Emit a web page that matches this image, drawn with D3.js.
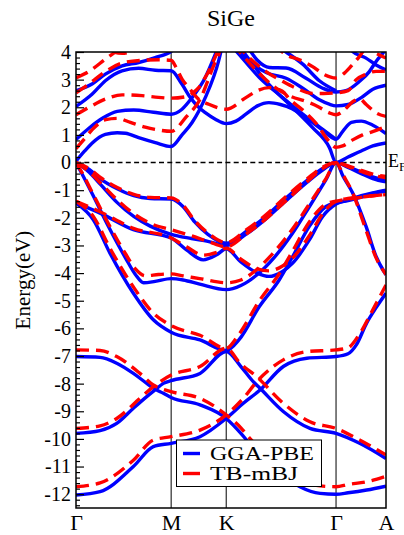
<!DOCTYPE html>
<html>
<head>
<meta charset="utf-8">
<script src="https://cdn.jsdelivr.net/npm/d3@7"></script>
<style>
  body { margin: 0; background: #fff; }
  text { font-family: "Liberation Serif", "Times New Roman", serif; }
</style>
</head>
<body>
<svg id="chart" width="404" height="535"></svg>
<script>
// caminho no espaço k e rótulos
var kTicks = [0, 0.577, 0.911, 1.577, 1.88];
var kLabels = ["Γ", "M", "K", "Γ", "A"];
var yTicks = [4, 3, 2, 1, 0, -1, -2, -3, -4, -5, -6, -7, -8, -9, -10, -11, -12];
var seriesNames = ["GGA-PBE", "TB-mBJ"];

// GGA-PBE: bandas de condução [k, E]
var ggaC1 = [[0,0.05],[0.05,0.4],[0.097,0.7],[0.178,1.02],[0.25,1.08],[0.3,1.06],[0.38,0.9],[0.481,0.72],[0.577,0.58],[0.643,1.0],[0.704,1.45],[0.784,2.35],[0.865,3.68],[0.89,4.3]];
var ggaC2 = [[0,0.83],[0.08,1.25],[0.16,1.6],[0.25,1.85],[0.35,1.9],[0.47,1.82],[0.577,1.75],[0.643,1.93],[0.704,2.35],[0.784,3.08],[0.845,3.92],[0.87,4.3]];
var ggaC3 = [[0,2.03],[0.097,2.47],[0.178,2.96],[0.279,3.32],[0.38,3.41],[0.481,3.34],[0.577,3.32],[0.643,2.83],[0.693,2.35],[0.744,2.0],[0.784,1.81],[0.845,1.57],[0.911,1.41],[0.97,1.5],[1.03,1.75],[1.1,2.05],[1.17,2.17],[1.24,2.1],[1.31,1.95],[1.4,1.6],[1.49,1.2],[1.577,0.84],[1.62,1.15],[1.67,1.45],[1.73,1.5],[1.8,1.35],[1.88,1.05]];
var ggaC4 = [[0,2.6],[0.1,2.85],[0.178,3.2],[0.28,3.5],[0.38,3.62],[0.48,3.8],[0.577,4.02],[0.62,4.3]];
var ggaS1 = [[0.978,4.3],[1.011,4.04],[1.152,2.95],[1.314,1.99],[1.435,1.26],[1.537,0.54],[1.577,0.0],[1.65,0.2],[1.73,0.42],[1.8,0.6],[1.88,0.71]];
var ggaS2 = [[0.93,4.3],[0.97,4.04],[1.112,3.08],[1.253,2.35],[1.375,1.75],[1.496,1.2],[1.577,0.84]];
var ggaV = [[0.94,4.3],[0.974,4.09],[1.156,3.25],[1.274,3.05],[1.375,2.69],[1.476,2.27],[1.536,2.11],[1.577,2.05],[1.65,2.1],[1.73,2.35],[1.8,2.65],[1.88,2.8]];
var ggaT = [[1.03,4.3],[1.1,3.7],[1.173,3.44],[1.274,3.42],[1.395,3.05],[1.496,2.69],[1.577,2.55],[1.637,2.6],[1.718,2.93],[1.779,3.29],[1.82,3.66],[1.86,3.95],[1.88,4.1]];
var ggaU = [[1.2,4.3],[1.274,4.0],[1.375,3.56],[1.476,2.96],[1.577,2.6]];
var ggaA = [[1.66,4.3],[1.678,4.02],[1.759,3.78],[1.82,3.53],[1.88,3.35]];

// GGA-PBE: bandas de valência
var ggaVa = [[0,0],[0.08,-0.25],[0.15,-0.6],[0.25,-0.95],[0.35,-1.2],[0.45,-1.3],[0.577,-1.32],[0.65,-1.6],[0.72,-2.15],[0.8,-2.6],[0.911,-2.92],[1.03,-2.5],[1.15,-1.95],[1.27,-1.3],[1.4,-0.65],[1.5,-0.2],[1.577,0],[1.65,-0.15],[1.73,-0.35],[1.8,-0.52],[1.88,-0.65]];
var ggaVe = [[0,0],[0.08,-0.35],[0.15,-0.8],[0.25,-1.45],[0.35,-1.95],[0.45,-2.3],[0.577,-2.6],[0.7,-2.75],[0.8,-2.85],[0.911,-3.0],[1.03,-2.6],[1.15,-2.05],[1.27,-1.4],[1.4,-0.72],[1.5,-0.25],[1.577,0],[1.65,-0.18],[1.73,-0.4],[1.8,-0.58],[1.88,-0.7]];
var ggaVb = [[0,0],[0.04,-0.45],[0.1,-1.15],[0.2,-2.35],[0.3,-3.45],[0.36,-4.05],[0.41,-4.35],[0.48,-4.3],[0.577,-4.2],[0.65,-4.25],[0.75,-4.4],[0.911,-4.6],[1.0,-4.45],[1.1,-4.05],[1.2,-3.45],[1.314,-2.55],[1.415,-1.6],[1.516,-0.62],[1.577,0],[1.62,-0.5],[1.678,-1.1],[1.759,-2.31],[1.82,-3.4],[1.88,-4.06]];
var ggaVd = [[0,-1.46],[0.146,-1.83],[0.348,-2.43],[0.577,-2.73],[0.67,-3.16],[0.772,-3.52],[0.853,-3.34],[0.911,-3.12],[1.0,-3.6],[1.1,-4.0],[1.17,-4.12],[1.25,-3.95],[1.314,-3.64],[1.415,-2.8],[1.496,-1.95],[1.577,-1.5],[1.65,-1.35],[1.73,-1.2],[1.8,-1.1],[1.88,-1.0]];
var ggaVc = [[0,-1.46],[0.105,-2.07],[0.206,-3.28],[0.348,-4.73],[0.469,-5.69],[0.577,-6.14],[0.752,-6.42],[0.911,-6.8],[0.99,-6.4],[1.112,-5.21],[1.233,-4.24],[1.314,-3.4],[1.415,-2.31],[1.516,-1.59],[1.577,-1.46],[1.65,-1.38],[1.73,-1.25],[1.8,-1.12],[1.88,-1.04]];
var ggaF1 = [[0,-7.02],[0.146,-7.05],[0.247,-7.26],[0.348,-7.63],[0.429,-7.99],[0.479,-8.2],[0.53,-8.35],[0.577,-8.5],[0.752,-8.77],[0.911,-9.26],[1.0,-9.8],[1.05,-10.15],[1.15,-10.8],[1.25,-11.3],[1.358,-11.73],[1.48,-11.97],[1.577,-12.0],[1.65,-11.95],[1.763,-11.85],[1.88,-11.71]];
var ggaF2 = [[0,-9.8],[0.146,-9.7],[0.247,-9.44],[0.348,-8.89],[0.429,-8.47],[0.479,-8.23],[0.53,-7.99],[0.577,-7.89],[0.752,-7.63],[0.911,-6.84],[1.0,-7.38],[1.075,-7.93],[1.116,-8.17],[1.257,-9.01],[1.419,-9.62],[1.577,-9.8],[1.72,-10.16],[1.88,-10.71]];
var ggaF3 = [[0,-12.03],[0.146,-11.91],[0.348,-11.0],[0.469,-10.28],[0.577,-10.16],[0.752,-9.92],[0.911,-9.26],[1.015,-8.71],[1.116,-8.23],[1.257,-7.38],[1.4,-7.08],[1.577,-7.02],[1.65,-6.92],[1.7,-6.6],[1.763,-5.8],[1.82,-5.25],[1.88,-4.73]];

// TB-mBJ: bandas de condução
var mbjC1 = [[0,0.5],[0.05,0.85],[0.1,1.2],[0.18,1.55],[0.25,1.6],[0.33,1.45],[0.42,1.28],[0.5,1.18],[0.577,1.13],[0.671,1.67],[0.752,2.28],[0.833,3.48],[0.873,4.03],[0.89,4.3]];
var mbjC2 = [[0,1.73],[0.08,2.0],[0.18,2.3],[0.28,2.45],[0.4,2.42],[0.5,2.36],[0.577,2.33],[0.663,2.38],[0.704,2.5],[0.744,2.71],[0.784,3.08],[0.825,3.56],[0.865,4.1],[0.88,4.3]];
var mbjC3 = [[0,2.52],[0.08,2.85],[0.18,3.3],[0.28,3.6],[0.4,3.7],[0.5,3.72],[0.577,3.7],[0.607,3.44],[0.643,3.02],[0.684,2.71],[0.744,2.29],[0.805,2.11],[0.911,1.93],[1.03,2.35],[1.1,2.6],[1.17,2.71],[1.25,2.59],[1.294,2.3],[1.375,1.9],[1.456,1.42],[1.536,0.76],[1.577,0.55],[1.617,0.6],[1.678,0.82],[1.738,1.0],[1.799,1.12],[1.88,1.3]];
var mbjC4 = [[0,3.06],[0.08,3.3],[0.18,3.75],[0.26,4.1],[0.3,4.3]];
var mbjC5 = [[0.12,4.3],[0.2,4.05],[0.28,3.95],[0.35,4.05],[0.42,4.3]];
var mbjS1 = [[0.95,4.3],[1.0,3.95],[1.1,3.3],[1.2,2.75],[1.3,2.4],[1.4,2.2],[1.466,2.03],[1.536,1.8],[1.577,1.73],[1.627,1.9],[1.678,2.2],[1.72,2.3],[1.76,2.1],[1.82,1.8],[1.88,1.67]];
var mbjS2 = [[0.97,4.3],[1.05,3.8],[1.15,3.3],[1.25,2.95],[1.335,2.69],[1.435,2.5],[1.5,2.5],[1.577,2.52],[1.65,2.6],[1.698,2.99],[1.76,3.2],[1.82,3.3],[1.88,3.3]];
var mbjU = [[1.2,4.3],[1.274,3.9],[1.355,3.72],[1.435,3.47],[1.5,3.2],[1.577,3.06],[1.62,3.2],[1.67,3.5],[1.72,3.85],[1.77,4.3]];
var mbjA = [[1.72,4.3],[1.8,4.02],[1.88,3.78]];

// TB-mBJ: bandas de valência
var mbjVa = [[0,0],[0.08,-0.22],[0.15,-0.55],[0.25,-0.9],[0.35,-1.15],[0.45,-1.26],[0.577,-1.28],[0.65,-1.55],[0.72,-2.1],[0.8,-2.55],[0.911,-2.9],[1.03,-2.45],[1.15,-1.9],[1.27,-1.25],[1.4,-0.6],[1.5,-0.15],[1.577,0],[1.65,-0.12],[1.73,-0.28],[1.8,-0.42],[1.88,-0.5]];
var mbjVe = [[0,0],[0.08,-0.33],[0.15,-0.75],[0.25,-1.35],[0.35,-1.85],[0.45,-2.2],[0.577,-2.43],[0.7,-2.65],[0.8,-2.85],[0.911,-3.05],[1.03,-2.6],[1.15,-2.05],[1.27,-1.4],[1.4,-0.7],[1.5,-0.2],[1.577,0],[1.65,-0.15],[1.73,-0.32],[1.8,-0.46],[1.88,-0.55]];
var mbjVb = [[0,0],[0.04,-0.4],[0.1,-1.1],[0.2,-2.25],[0.3,-3.3],[0.36,-3.85],[0.42,-4.1],[0.5,-4.05],[0.577,-4.03],[0.65,-4.1],[0.75,-4.2],[0.911,-4.35],[1.0,-4.25],[1.1,-3.85],[1.2,-3.25],[1.314,-2.4],[1.415,-1.5],[1.516,-0.58],[1.577,0],[1.62,-0.45],[1.678,-1.1],[1.759,-2.45],[1.82,-3.45],[1.88,-4.05]];
var mbjVd = [[0,-1.4],[0.146,-1.78],[0.348,-2.38],[0.577,-2.73],[0.67,-3.05],[0.772,-3.35],[0.853,-3.25],[0.911,-3.1],[1.0,-3.5],[1.1,-3.85],[1.17,-3.92],[1.25,-3.75],[1.314,-3.45],[1.415,-2.65],[1.496,-1.85],[1.577,-1.4],[1.65,-1.3],[1.73,-1.25],[1.8,-1.2],[1.88,-1.16]];
var mbjVc = [[0,-1.4],[0.105,-1.95],[0.206,-3.1],[0.348,-4.5],[0.469,-5.45],[0.577,-5.9],[0.752,-6.25],[0.911,-6.72],[0.99,-6.2],[1.112,-5.0],[1.233,-4.02],[1.314,-3.2],[1.415,-2.15],[1.516,-1.5],[1.577,-1.4],[1.65,-1.32],[1.73,-1.26],[1.8,-1.2],[1.88,-1.16]];
var mbjF1 = [[0,-6.78],[0.146,-6.8],[0.247,-7.02],[0.388,-7.63],[0.469,-8.05],[0.577,-8.29],[0.752,-8.53],[0.911,-9.13],[1.0,-9.6],[1.05,-9.95],[1.15,-10.55],[1.25,-11.05],[1.358,-11.45],[1.48,-11.7],[1.577,-11.73],[1.65,-11.65],[1.763,-11.55],[1.88,-11.35]];
var mbjF2 = [[0,-9.62],[0.146,-9.53],[0.247,-9.26],[0.388,-8.53],[0.469,-8.11],[0.577,-7.69],[0.752,-7.38],[0.911,-6.72],[0.995,-7.26],[1.096,-7.75],[1.257,-8.71],[1.419,-9.38],[1.577,-9.62],[1.72,-10.04],[1.88,-10.58]];
var mbjF3 = [[0,-11.73],[0.146,-11.59],[0.348,-10.77],[0.469,-10.04],[0.577,-9.92],[0.752,-9.68],[0.911,-9.13],[1.015,-8.53],[1.096,-7.93],[1.257,-7.14],[1.4,-6.84],[1.577,-6.78],[1.65,-6.7],[1.72,-6.2],[1.8,-5.33],[1.88,-4.43]];

var ggaBands = [ggaC1, ggaC2, ggaC3, ggaC4, ggaS1, ggaS2, ggaV, ggaT, ggaU, ggaA,
	ggaVa, ggaVe, ggaVb, ggaVd, ggaVc, ggaF1, ggaF2, ggaF3];
var mbjBands = [mbjC1, mbjC2, mbjC3, mbjC4, mbjC5, mbjS1, mbjS2, mbjU, mbjA,
	mbjVa, mbjVe, mbjVb, mbjVd, mbjVc, mbjF1, mbjF2, mbjF3];

var svg = d3.select("#chart");
var plotLeft = 76, plotRight = 386, plotTop = 52, plotBottom = 508;

var x = d3.scaleLinear().domain([0, 1.88]).range([plotLeft, plotRight]);
var y = d3.scaleLinear().domain([-12.5, 4]).range([plotBottom, plotTop]);

// título
svg.append("text")
	.attr("x", (plotLeft + plotRight) / 2).attr("y", 26)
	.attr("text-anchor", "middle")
	.attr("font-size", 24)
	.text("SiGe");

svg.append("clipPath").attr("id", "plotClip")
	.append("rect")
	.attr("x", plotLeft).attr("y", plotTop)
	.attr("width", plotRight - plotLeft).attr("height", plotBottom - plotTop);

// linhas verticais nos pontos de alta simetria
svg.append("g").selectAll("line")
	.data(kTicks.slice(1, -1))
	.enter().append("line")
	.attr("x1", function(d){ return x(d); }).attr("x2", function(d){ return x(d); })
	.attr("y1", plotTop).attr("y2", plotBottom)
	.attr("stroke", "#000").attr("stroke-width", 1);

// nível de Fermi
svg.append("line")
	.attr("x1", plotLeft).attr("x2", plotRight)
	.attr("y1", y(0)).attr("y2", y(0))
	.attr("stroke", "#000").attr("stroke-width", 1.5)
	.attr("stroke-dasharray", "5,3.3");

var line = d3.line()
	.x(function(d){ return x(d[0]); })
	.y(function(d){ return y(d[1]); })
	.curve(d3.curveMonotoneX);

var bands = svg.append("g").attr("clip-path", "url(#plotClip)");

bands.selectAll("path.gga")
	.data(ggaBands)
	.enter().append("path")
	.attr("class", "gga")
	.attr("d", line)
	.attr("fill", "none")
	.attr("stroke", "#0000ff")
	.attr("stroke-width", 3.4);

bands.selectAll("path.mbj")
	.data(mbjBands)
	.enter().append("path")
	.attr("class", "mbj")
	.attr("d", line)
	.attr("fill", "none")
	.attr("stroke", "#ff0000")
	.attr("stroke-width", 3.4)
	.attr("stroke-dasharray", "13,7");

// moldura
svg.append("rect")
	.attr("x", plotLeft).attr("y", plotTop)
	.attr("width", plotRight - plotLeft).attr("height", plotBottom - plotTop)
	.attr("fill", "none").attr("stroke", "#000").attr("stroke-width", 1.5);

// eixo y: ticks maiores e menores para dentro
var yAxis = d3.axisLeft(y)
	.tickValues(yTicks)
	.tickSize(-8)
	.tickPadding(5)
	.tickFormat(function(d){ return d < 0 ? "-" + Math.abs(d) : d; });
var gy = svg.append("g").attr("transform", "translate(" + plotLeft + ",0)").call(yAxis);
gy.select(".domain").remove();
gy.selectAll("text").attr("font-size", 20).attr("font-family", "Liberation Serif, serif").attr("fill", "#000");
gy.selectAll("line").attr("stroke-width", 1.2);

var minor = d3.range(-62, 21).map(function(i){ return i / 5; })
	.filter(function(v){ return Math.abs(v - Math.round(v)) > 1e-6; });
var gyMinor = svg.append("g").attr("transform", "translate(" + plotLeft + ",0)")
	.call(d3.axisLeft(y).tickValues(minor).tickSize(-4).tickFormat(""));
gyMinor.select(".domain").remove();
gyMinor.selectAll("line").attr("stroke-width", 1.2);

// eixo x com os rótulos dos pontos k
var xAxis = d3.axisBottom(x)
	.tickValues(kTicks)
	.tickSize(0)
	.tickPadding(6)
	.tickFormat(function(d, i){ return kLabels[i]; });
var gx = svg.append("g").attr("transform", "translate(0," + plotBottom + ")").call(xAxis);
gx.select(".domain").remove();
gx.selectAll("text").attr("font-size", 22).attr("font-family", "Liberation Serif, serif").attr("fill", "#000");

// rótulo do eixo y
svg.append("text")
	.attr("transform", "translate(30," + ((plotTop + plotBottom) / 2) + ") rotate(-90)")
	.attr("text-anchor", "middle")
	.attr("font-size", 21)
	.text("Energy(eV)");

// E_F (cortado na borda como no original)
var ef = svg.append("text")
	.attr("x", 388).attr("y", 167)
	.attr("font-size", 18)
	.text("E");
ef.append("tspan").attr("font-size", 13).attr("dy", 4).text("F");

// legenda
var legend = svg.append("g");
legend.append("rect")
	.attr("x", 176.5).attr("y", 440)
	.attr("width", 145).attr("height", 46.5)
	.attr("fill", "#fff").attr("stroke", "#000").attr("stroke-width", 1);
legend.selectAll("line")
	.data(seriesNames)
	.enter().append("line")
	.attr("x1", 183).attr("x2", 200)
	.attr("y1", function(d, i){ return 453.5 + i * 20; })
	.attr("y2", function(d, i){ return 453.5 + i * 20; })
	.attr("stroke", function(d, i){ return i === 0 ? "#0000ff" : "#ff0000"; })
	.attr("stroke-width", 3.4)
	.attr("stroke-dasharray", function(d, i){ return i === 0 ? null : "18,7"; });
legend.selectAll("text")
	.data(seriesNames)
	.enter().append("text")
	.attr("x", 210)
	.attr("y", function(d, i){ return 460 + i * 20; })
	.attr("font-size", 19)
	.attr("textLength", function(d, i){ return i === 0 ? 104 : 88; })
	.attr("lengthAdjust", "spacingAndGlyphs")
	.text(function(d){ return d; });
</script>
</body>
</html>
